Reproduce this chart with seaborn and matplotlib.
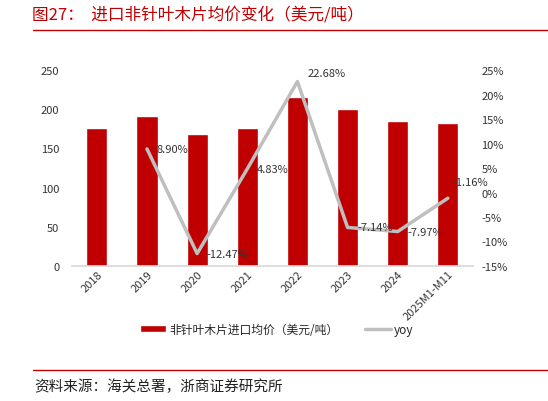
import seaborn as sns
import numpy as np
import pandas as pd
from matplotlib import pyplot as plt

years = ["2018", "2019", "2020", "2021", "2022", "2023", "2024", "2025M1-M11"]
price = [176.3, 192.0, 168.1, 176.2, 216.2, 200.7, 184.7, 182.6]
yoy_years = ["2019", "2020", "2021", "2022", "2023", "2024", "2025M1-M11"]
yoy = [8.90, -12.47, 4.83, 22.68, -7.14, -7.97, -1.16]
yoy_labels = ["8.90%", "-12.47%", "4.83%", "22.68%", "-7.14%", "-7.97%", "-1.16%"]

sns.set_theme(style="white")
plt.rcParams['font.family'] = ['Noto Sans CJK SC', 'DejaVu Sans']
plt.rcParams['axes.unicode_minus'] = False

red = "#C00000"
grey = "#BFBFBF"

fig = plt.figure(figsize=(5.48, 4.02), dpi=100)
ax = fig.add_axes([0.131, 0.336, 0.732, 0.487])

df = pd.DataFrame({"year": years, "price": price})
sns.barplot(data=df, x="year", y="price", color=red, width=0.42,
            saturation=1, ax=ax, label="非针叶木片进口均价（美元/吨）")
ax.set_ylim(0, 250)
ax.set_yticks(range(0, 251, 50))
ax.set_xlabel("")
ax.set_ylabel("")
for s in ["top", "right", "left"]:
    ax.spines[s].set_visible(False)
ax.spines["bottom"].set_color("#D9D9D9")
ax.tick_params(axis="y", length=0, labelsize=8, colors="#333333", pad=9)
ax.tick_params(axis="x", length=0, labelsize=8, colors="#333333", pad=2)
plt.setp(ax.get_xticklabels(), rotation=45, ha="right", rotation_mode="anchor")

ax2 = ax.twinx()
dl = pd.DataFrame({"pos": [years.index(y) for y in yoy_years], "yoy": yoy})
sns.lineplot(data=dl, x="pos", y="yoy", color=grey, linewidth=2.5, ax=ax2,
             label="yoy")
ax2.set_ylim(-15, 25)
ax2.set_yticks(range(-15, 26, 5))
ax2.set_yticklabels([f"{v}%" for v in range(-15, 26, 5)])
ax2.set_ylabel("")
for s in ["top", "right", "left", "bottom"]:
    ax2.spines[s].set_visible(False)
ax2.tick_params(axis="y", length=0, labelsize=8, colors="#333333", pad=6)
offsets = {"22.68%": (7, 6), "-1.16%": (3, 12)}
for x, y, t in zip(dl["pos"], dl["yoy"], yoy_labels):
    off = offsets.get(t, (7, 0))
    ax2.annotate(t, (x, y), xytext=off, textcoords="offset points",
                 fontsize=8, va="center", ha="left", color="#333333")
ax2.set_xlim(-0.5, 7.5)
ax.set_xlim(-0.5, 7.5)

h1, l1 = ax.get_legend_handles_labels()
h2, l2 = ax2.get_legend_handles_labels()
if ax2.get_legend():
    ax2.get_legend().remove()
if ax.get_legend():
    ax.get_legend().remove()
fig.legend(h1 + h2, l1 + l2, loc="center", bbox_to_anchor=(0.505, 0.178),
           ncol=2, frameon=False, fontsize=8.5, handlelength=2.2,
           handleheight=0.5, columnspacing=2.2, handletextpad=0.3)

fig.text(0.058, 0.962, "图27：  进口非针叶木片均价变化（美元/吨）", color=red,
         fontsize=12, va="center")
fig.add_artist(plt.Line2D([0.06, 1.0], [0.922, 0.922], color=red, lw=1))
fig.add_artist(plt.Line2D([0.06, 1.0], [0.077, 0.077], color=red, lw=1))
fig.text(0.062, 0.037, "资料来源：海关总署，浙商证券研究所", color="#222222",
         fontsize=10.5, va="center")

plt.savefig("out.png", dpi=100)
plt.close()
